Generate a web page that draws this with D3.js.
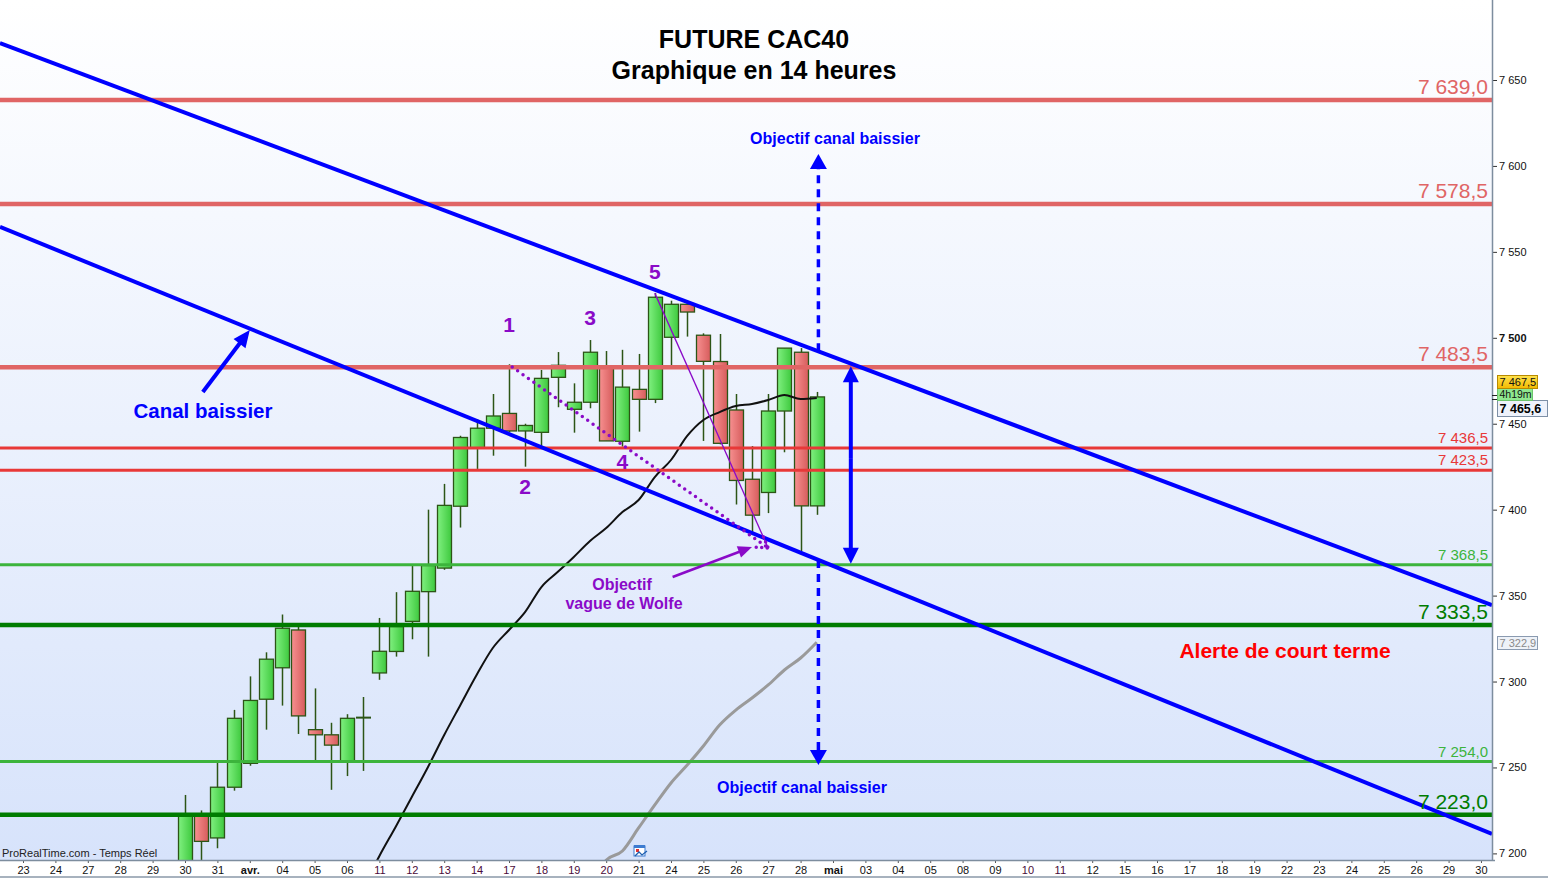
<!DOCTYPE html>
<html>
<head>
<meta charset="utf-8">
<script src="https://cdn.jsdelivr.net/npm/d3@7/dist/d3.min.js"></script>
<style>
  body { margin: 0; background: #fff; }
  svg text { font-family: Arial, "Liberation Sans", sans-serif; }
</style>
</head>
<body>
<div id="chart"></div>
<script>

// x axis day labels, one every 2 bars (14h bars)
const dayLabels = ["23","24","27","28","29","30","31","avr.","04","05","06","11","12","13","14","17","18","19","20","21",
  "24","25","26","27","28","mai","03","04","05","08","09","10","11","12","15","16","17","18","19","22","23","24","25","26","29","30"];

// candles, bar index 0 = 30 mars
const candleOpen  = [7180, 7222, 7209, 7238.5, 7252.4, 7289.7, 7308, 7330, 7272, 7269, 7253.5, 7279, 7305, 7317.5, 7335, 7352.3,
  7366, 7402, 7435.7, 7447.4, 7456, 7445.8, 7445, 7477, 7458.4, 7462.5, 7483, 7439.8, 7470, 7464.2, 7500.3, 7519.5,
  7501.5, 7486.2, 7458, 7417.7, 7410, 7457.4, 7491.6, 7402.2];
const candleHigh  = [7234, 7225, 7253, 7283.5, 7303, 7317, 7339, 7332, 7296, 7276, 7281, 7291, 7337, 7352, 7367.5, 7400,
  7415, 7443, 7452.6, 7467.3, 7484.6, 7450, 7481.3, 7491.7, 7473.5, 7498.7, 7492.3, 7493, 7490.6, 7526, 7521.6, 7521,
  7502.6, 7502.2, 7467.3, 7437, 7467.3, 7494, 7494, 7468.5];
const candleLow   = [7170, 7196, 7203, 7236.5, 7251, 7272, 7286, 7269.5, 7254, 7237, 7245, 7248, 7301, 7314.5, 7324.6, 7314.5,
  7365, 7389.6, 7423.7, 7431.4, 7445, 7425, 7437, 7459.6, 7444.8, 7459, 7440, 7436.7, 7445.4, 7462, 7484, 7500.7,
  7440, 7438, 7403, 7386.3, 7398, 7433.4, 7375.6, 7397];
const candleClose = [7222.4, 7207, 7238.5, 7278.6, 7289, 7313, 7331, 7280, 7269, 7263, 7278.6, 7279.2, 7317.6, 7332, 7352.5, 7367.5,
  7402.5, 7442, 7447.4, 7454.5, 7445.8, 7449, 7476.4, 7484, 7462.5, 7491.6, 7440, 7471.3, 7464.2, 7523.6, 7519.5, 7515,
  7486.3, 7438.6, 7417, 7396.8, 7457.4, 7494, 7402.2, 7465.6];

// moving averages (bar index, value)
const maFastIdx = d3.range(11, 40);
const maFast = [7180, 7198.5, 7215.4, 7232.8, 7250.3, 7268.9, 7286.4, 7303.8, 7319.5, 7330, 7340.5, 7355, 7363.7, 7372.5,
  7381.8, 7389.3, 7398.6, 7405.6, 7419, 7428.9, 7442.9, 7452.2, 7456.8, 7460.3, 7461.5, 7463.8, 7466.7, 7464.4, 7465];
const maSlowIdx = d3.range(25, 40);
const maSlow = [7180, 7196, 7201.4, 7214.8, 7228.2, 7241, 7251.4, 7262.5, 7274.7, 7283.4, 7290.4, 7298, 7306.7, 7313.7, 7322.9];

// horizontal levels
const levelValues = [7639.0, 7578.5, 7483.5, 7436.5, 7423.5, 7368.5, 7333.5, 7254.0, 7223.0];
const levelKinds  = ["resMajor", "resMajor", "resMajor", "res", "res", "sup", "supMajor", "sup", "supMajor"];

// channel (bar index, price)
const upperChannel = [[-11.42, 7671.5], [80.68, 7344.5]];
const lowerChannel = [[-11.42, 7564.5], [80.68, 7211.3]];

// wolfe wave
const waveLabels = ["1", "2", "3", "4", "5"];
const waveIdx    = [20, 21, 25, 27, 29];
const wavePrice  = [7503.5, 7409, 7507.5, 7423.5, 7534.5];
const wolfeLine  = [[20.2, 7483], [36, 7377.7]];
const wolfeTarget = [[29, 7526], [36, 7377.7]];
const wolfeArrow = [[30.1, 7360.8], [35, 7378.3]];

// channel targets
const targetIdx = 39.1;
const targetUp = 7607;
const targetDown = 7251.5;
const rangeArrowIdx = 41.1;
const canalArrow = [[1.1, 7468.5], [4.0, 7504.5]];

// right axis markers
const lastHigh = 7467.5;
const lastPrice = 7465.6;
const slowLast = 7322.9;

const W = 1548, H = 878, plotW = 1492, plotH = 860;

const fr = d3.formatLocale({decimal: ",", thousands: " ", grouping: [3], currency: ["", ""]});
const fmtLevel = fr.format(",.1f");
const fmtTick = fr.format(",.0f");

const xScale = d3.scaleLinear().domain([-11.42, 80.68]).range([0, plotW]);
const yScale = d3.scaleLinear().domain([7200, 7650]).range([853.4, 80]);

const svg = d3.select("#chart").append("svg")
    .attr("width", W)
    .attr("height", H);

const defs = svg.append("defs");

let bg = defs.append("linearGradient").attr("id", "bg").attr("x1", 0).attr("x2", 0).attr("y1", 0).attr("y2", 1);
bg.append("stop").attr("offset", "0%").attr("stop-color", "#ffffff");
bg.append("stop").attr("offset", "100%").attr("stop-color", "#d7e3fb");

let gUp = defs.append("linearGradient").attr("id", "gUp").attr("x1", 0).attr("x2", 1).attr("y1", 0).attr("y2", 0);
gUp.append("stop").attr("offset", "0%").attr("stop-color", "#80f080");
gUp.append("stop").attr("offset", "100%").attr("stop-color", "#3ec93e");

let gDown = defs.append("linearGradient").attr("id", "gDown").attr("x1", 0).attr("x2", 1).attr("y1", 0).attr("y2", 0);
gDown.append("stop").attr("offset", "0%").attr("stop-color", "#f79090");
gDown.append("stop").attr("offset", "100%").attr("stop-color", "#d65c5c");

let gGold = defs.append("linearGradient").attr("id", "gGold").attr("x1", 0).attr("x2", 0).attr("y1", 0).attr("y2", 1);
gGold.append("stop").attr("offset", "0%").attr("stop-color", "#ffe34d");
gGold.append("stop").attr("offset", "100%").attr("stop-color", "#f2b900");

defs.append("clipPath").attr("id", "plotClip")
    .append("rect").attr("x", 0).attr("y", 0).attr("width", plotW).attr("height", plotH);

svg.append("rect")
    .attr("x", 0).attr("y", 0)
    .attr("width", plotW).attr("height", plotH)
    .attr("fill", "url(#bg)");

const plot = svg.append("g").attr("clip-path", "url(#plotClip)");

// candles
const candles = d3.range(candleOpen.length).map(i => ({
    i: i, o: candleOpen[i], h: candleHigh[i], l: candleLow[i], c: candleClose[i]
}));

const wickColor = "#2c5516";
const bodyW = 14;

let cg = plot.append("g").attr("class", "candles");

cg.selectAll(".wick")
    .data(candles)
    .enter().append("line")
    .attr("class", "wick")
    .attr("x1", d => Math.round(xScale(d.i)) + 0.5)
    .attr("x2", d => Math.round(xScale(d.i)) + 0.5)
    .attr("y1", d => yScale(d.h))
    .attr("y2", d => yScale(d.l))
    .attr("stroke", wickColor)
    .attr("stroke-width", 1.5);

cg.selectAll(".body")
    .data(candles.filter(d => Math.abs(d.o - d.c) >= 0.6))
    .enter().append("rect")
    .attr("class", "body")
    .attr("x", d => Math.round(xScale(d.i)) - bodyW / 2 + 0.5)
    .attr("width", bodyW)
    .attr("y", d => yScale(Math.max(d.o, d.c)))
    .attr("height", d => Math.abs(yScale(d.o) - yScale(d.c)))
    .attr("fill", d => d.c >= d.o ? "url(#gUp)" : "url(#gDown)")
    .attr("stroke", wickColor)
    .attr("stroke-width", 1.3);

cg.selectAll(".doji")
    .data(candles.filter(d => Math.abs(d.o - d.c) < 0.6))
    .enter().append("line")
    .attr("class", "doji")
    .attr("x1", d => Math.round(xScale(d.i)) - bodyW / 2)
    .attr("x2", d => Math.round(xScale(d.i)) + bodyW / 2 + 1)
    .attr("y1", d => yScale(d.o))
    .attr("y2", d => yScale(d.o))
    .attr("stroke", wickColor)
    .attr("stroke-width", 2);

// moving averages
const maLine = d3.line().x(d => xScale(d[0])).y(d => yScale(d[1])).curve(d3.curveMonotoneX);

plot.append("path")
    .datum(maSlowIdx.map((k, i) => [k, maSlow[i]]))
    .attr("d", maLine)
    .attr("fill", "none")
    .attr("stroke", "#9a9a9a")
    .attr("stroke-width", 3);

plot.append("path")
    .datum(maFastIdx.map((k, i) => [k, maFast[i]]))
    .attr("d", maLine)
    .attr("fill", "none")
    .attr("stroke", "#111")
    .attr("stroke-width", 2);

// levels
const levelStyle = {
    resMajor: {color: "#e06565", width: 4.5, font: 21},
    res:      {color: "#e83838", width: 3,   font: 15},
    sup:      {color: "#3cb43c", width: 3,   font: 15},
    supMajor: {color: "#007c00", width: 4.5, font: 21}
};

const levels = levelValues.map((v, i) => ({v: v, kind: levelKinds[i]}));

plot.selectAll(".level")
    .data(levels)
    .enter().append("line")
    .attr("class", "level")
    .attr("x1", 0).attr("x2", plotW)
    .attr("y1", d => yScale(d.v) + 1)
    .attr("y2", d => yScale(d.v) + 1)
    .attr("stroke", d => levelStyle[d.kind].color)
    .attr("stroke-width", d => levelStyle[d.kind].width);

// channel lines
const chLine = d3.line().x(d => xScale(d[0])).y(d => yScale(d[1]));

[upperChannel, lowerChannel].forEach(ch => {
    plot.append("path")
        .attr("d", chLine(ch))
        .attr("stroke", "#0000ff")
        .attr("stroke-width", 4)
        .attr("fill", "none");
});

function arrowHead(g, x1, y1, x2, y2, len, wid, color) {
    let ang = Math.atan2(y2 - y1, x2 - x1);
    let bx = x2 - len * Math.cos(ang), by = y2 - len * Math.sin(ang);
    let px = -Math.sin(ang) * wid / 2, py = Math.cos(ang) * wid / 2;
    g.append("polygon")
        .attr("points", `${x2},${y2} ${bx + px},${by + py} ${bx - px},${by - py}`)
        .attr("fill", color);
}

function arrow(g, p1, p2, width, len, wid, color, dash) {
    let x1 = xScale(p1[0]), y1 = yScale(p1[1]), x2 = xScale(p2[0]), y2 = yScale(p2[1]);
    let ang = Math.atan2(y2 - y1, x2 - x1);
    g.append("line")
        .attr("x1", x1).attr("y1", y1)
        .attr("x2", x2 - (len - 2) * Math.cos(ang)).attr("y2", y2 - (len - 2) * Math.sin(ang))
        .attr("stroke", color)
        .attr("stroke-width", width)
        .attr("stroke-dasharray", dash || null);
    arrowHead(g, x1, y1, x2, y2, len, wid, color);
}

const ann = plot.append("g");

// dashed targets from the channel
const upperAt = d3.scaleLinear().domain(upperChannel.map(d => d[0])).range(upperChannel.map(d => d[1]));
const lowerAt = d3.scaleLinear().domain(lowerChannel.map(d => d[0])).range(lowerChannel.map(d => d[1]));

arrow(ann, [targetIdx, upperAt(targetIdx)], [targetIdx, targetUp], 3.5, 15, 17, "#0000ff", "8,6");
arrow(ann, [targetIdx, lowerAt(targetIdx)], [targetIdx, targetDown], 3.5, 15, 17, "#0000ff", "8,6");

// solid range arrow
arrow(ann, [rangeArrowIdx, 7430], [rangeArrowIdx, levelValues[2]], 4, 16, 16, "#0000ff");
arrow(ann, [rangeArrowIdx, 7430], [rangeArrowIdx, levelValues[5]], 4, 16, 16, "#0000ff");

// canal arrow
arrow(ann, canalArrow[0], canalArrow[1], 4, 17, 15, "#0000ff");

// wolfe
const purple = "#8a0ac8";
ann.append("path")
    .attr("d", chLine(wolfeTarget))
    .attr("stroke", purple)
    .attr("stroke-width", 1.3)
    .attr("fill", "none");

ann.append("path")
    .attr("d", chLine(wolfeLine))
    .attr("stroke", purple)
    .attr("stroke-width", 3.5)
    .attr("stroke-linecap", "round")
    .attr("stroke-dasharray", "0,6.6")
    .attr("fill", "none");

{
    let x2 = xScale(wolfeLine[1][0]), y2 = yScale(wolfeLine[1][1]);
    let x1 = xScale(wolfeLine[0][0]), y1 = yScale(wolfeLine[0][1]);
    let ang = Math.atan2(y2 - y1, x2 - x1);
    [0.55, -0.55].forEach(a => {
        let bx = x2 - 12 * Math.cos(ang + a), by = y2 - 12 * Math.sin(ang + a);
        ann.append("line")
            .attr("x1", bx).attr("y1", by).attr("x2", x2).attr("y2", y2)
            .attr("stroke", purple)
            .attr("stroke-width", 3.5)
            .attr("stroke-linecap", "round")
            .attr("stroke-dasharray", "0,5.5");
    });
}

arrow(ann, wolfeArrow[0], wolfeArrow[1], 2.5, 14, 12, purple);

ann.selectAll(".wave")
    .data(waveLabels)
    .enter().append("text")
    .attr("class", "wave")
    .attr("x", (d, i) => xScale(waveIdx[i]))
    .attr("y", (d, i) => yScale(wavePrice[i]))
    .attr("text-anchor", "middle")
    .attr("font-size", 21)
    .attr("font-weight", "bold")
    .attr("fill", purple)
    .text(d => d);

// level labels
svg.selectAll(".level-label")
    .data(levels)
    .enter().append("text")
    .attr("class", "level-label")
    .attr("x", 1488)
    .attr("y", d => yScale(d.v) - (levelStyle[d.kind].font > 16 ? 5 : 4))
    .attr("text-anchor", "end")
    .attr("font-size", d => levelStyle[d.kind].font)
    .attr("fill", d => levelStyle[d.kind].color)
    .text(d => fmtLevel(d.v));

// texts
function label(txt, x, y, size, color, anchor) {
    svg.append("text")
        .attr("x", x).attr("y", y)
        .attr("text-anchor", anchor || "middle")
        .attr("font-size", size)
        .attr("font-weight", "bold")
        .attr("fill", color)
        .text(txt);
}

label("FUTURE CAC40", 754, 48, 25, "#000");
label("Graphique en 14 heures", 754, 79, 25, "#000");
label("Objectif canal baissier", 835, 144, 16, "#0000ff");
label("Objectif canal baissier", 802, 793, 16, "#0000ff");
label("Canal baissier", 203, 418, 20.5, "#0000ff");
label("Alerte de court terme", 1285, 658, 21, "#ff0000");
label("Objectif", 622, 590, 16, purple);
label("vague de Wolfe", 624, 609, 16, purple);

svg.append("text")
    .attr("x", 2).attr("y", 857)
    .attr("font-size", 11)
    .attr("fill", "#222")
    .text("ProRealTime.com - Temps Réel");

// calendar icon
{
    let ic = svg.append("g").attr("transform", "translate(634,845)");
    ic.append("rect").attr("x", 0).attr("y", 1).attr("width", 11).attr("height", 10).attr("fill", "#fff").attr("stroke", "#3d7bd0").attr("stroke-width", 1);
    ic.append("rect").attr("x", 0).attr("y", 0).attr("width", 11).attr("height", 3).attr("fill", "#3d7bd0");
    ic.append("rect").attr("x", 2).attr("y", 4).attr("width", 3).attr("height", 3).attr("fill", "#e03030");
    ic.append("polyline").attr("points", "1,11 5,7 8,10 13,6").attr("fill", "none").attr("stroke", "#1f5fb0").attr("stroke-width", 1.3);
}

// right axis
const axisColor = "#7d8d9e";

const yAxis = d3.axisRight(yScale)
    .tickValues(d3.range(7200, 7651, 50))
    .tickSize(5)
    .tickPadding(2)
    .tickFormat(fmtTick);

let ya = svg.append("g")
    .attr("transform", `translate(${plotW},0)`)
    .call(yAxis);

ya.select(".domain").remove();
ya.selectAll(".tick line").attr("stroke", "#333");
ya.selectAll(".tick text")
    .attr("font-size", 11)
    .attr("fill", "#111")
    .attr("font-family", "Arial, 'Liberation Sans', sans-serif")
    .attr("font-weight", d => d % 500 === 0 ? "bold" : "normal");

svg.append("line")
    .attr("x1", plotW + 0.5).attr("x2", plotW + 0.5)
    .attr("y1", 0).attr("y2", plotH)
    .attr("stroke", axisColor)
    .attr("stroke-width", 1.5);

// bottom axis
const xAxis = d3.axisBottom(xScale)
    .tickValues(dayLabels.map((d, i) => -10 + 2 * i))
    .tickSize(3)
    .tickPadding(3)
    .tickFormat((d, i) => dayLabels[i]);

let xa = svg.append("g")
    .attr("transform", `translate(0,${plotH})`)
    .call(xAxis);

xa.select(".domain").remove();
xa.selectAll(".tick line").attr("stroke", "#555");
xa.selectAll(".tick text")
    .attr("font-size", 11)
    .attr("font-family", "Arial, 'Liberation Sans', sans-serif")
    .attr("fill", (d, i) => ((i >= 11 && i <= 18) || i === 31 || i === 32) ? "#4a0a3a" : "#111")
    .attr("font-weight", (d, i) => (dayLabels[i] === "avr." || dayLabels[i] === "mai") ? "bold" : "normal");

svg.append("line")
    .attr("x1", 0).attr("x2", plotW + 3)
    .attr("y1", plotH + 0.5).attr("y2", plotH + 0.5)
    .attr("stroke", axisColor)
    .attr("stroke-width", 1.5);

svg.append("line")
    .attr("x1", 0).attr("x2", W)
    .attr("y1", H - 1).attr("y2", H - 1)
    .attr("stroke", "#8a98a8")
    .attr("stroke-width", 1.5);

// right axis boxes
function priceBox(top, w, h, txt, fill, stroke, color, weight, size) {
    let g = svg.append("g").attr("transform", `translate(${plotW + 5},${top})`);
    g.append("rect")
        .attr("x", 0.5).attr("y", 0.5)
        .attr("width", w).attr("height", h)
        .attr("fill", fill)
        .attr("stroke", stroke);
    g.append("text")
        .attr("x", 2.5).attr("y", h / 2 + 0.5)
        .attr("dy", "0.35em")
        .attr("font-size", size)
        .attr("font-weight", weight)
        .attr("fill", color)
        .text(txt);
}

[-2, 2].forEach(off => {
    svg.append("line")
        .attr("x1", plotW).attr("x2", plotW + 5)
        .attr("y1", Math.round(yScale(lastPrice)) + 0.5 + off)
        .attr("y2", Math.round(yScale(lastPrice)) + 0.5 + off)
        .attr("stroke", "#222");
});

const yHigh = Math.round(yScale(lastHigh));
priceBox(yHigh + 6, 50, 16, fmtLevel(lastPrice), "#eef2fb", "#7d8fa6", "#000", "bold", 12.5);
priceBox(yHigh - 6, 35, 12, "4h19m", "#8fe88f", "#6cc56c", "#111", "normal", 10.5);
priceBox(yHigh - 19, 40, 13, fmtLevel(lastHigh), "url(#gGold)", "#b88a00", "#111", "normal", 11);
priceBox(Math.round(yScale(slowLast)) - 6, 40, 13, fmtLevel(slowLast), "#eef2f8", "#8a9ab0", "#8a8a8a", "normal", 11);

</script>
</body>
</html>
